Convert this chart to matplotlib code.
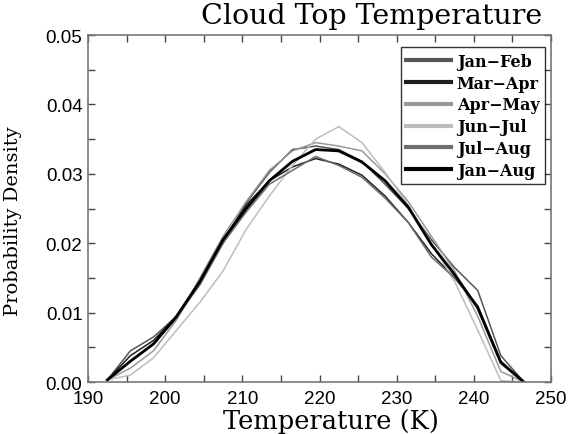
"""
Cloud top temperature probability density by season
"""
import numpy as np
import matplotlib
matplotlib.use("Agg")
import matplotlib.pyplot as plt
from matplotlib.lines import Line2D
from matplotlib.ticker import MultipleLocator

# bin centres (K)
temperature = [192.5, 195.5, 198.5, 201.5, 204.5, 207.5, 210.5, 213.5, 216.5, 219.5,
               222.5, 225.5, 228.5, 231.5, 234.5, 237.5, 240.5, 243.5, 246.5]

jan_feb = [0.0003, 0.0045, 0.0065, 0.0095, 0.0140, 0.0200, 0.0258, 0.0302, 0.0335, 0.0340,
           0.0335, 0.0318, 0.0285, 0.0250, 0.0205, 0.0165, 0.0132, 0.0038, 0.0]
mar_apr = [0.0003, 0.0038, 0.0060, 0.0095, 0.0145, 0.0205, 0.0255, 0.0290, 0.0310, 0.0322,
           0.0314, 0.0298, 0.0268, 0.0230, 0.0185, 0.0150, 0.0110, 0.0030, 0.0]
apr_may = [0.0003, 0.0020, 0.0045, 0.0090, 0.0150, 0.0210, 0.0260, 0.0305, 0.0333, 0.0345,
           0.0340, 0.0333, 0.0300, 0.0260, 0.0210, 0.0160, 0.0095, 0.0015, 0.0]
jun_jul = [0.0003, 0.0010, 0.0035, 0.0075, 0.0115, 0.0160, 0.0220, 0.0268, 0.0312, 0.0350,
           0.0368, 0.0345, 0.0302, 0.0255, 0.0200, 0.0145, 0.0075, 0.0002, 0.0]
jul_aug = [0.0003, 0.0030, 0.0055, 0.0092, 0.0142, 0.0200, 0.0245, 0.0285, 0.0305, 0.0325,
           0.0312, 0.0295, 0.0265, 0.0230, 0.0180, 0.0150, 0.0110, 0.0030, 0.0]
jan_aug = [0.0003, 0.0030, 0.0055, 0.0095, 0.0145, 0.0205, 0.0250, 0.0290, 0.0318, 0.0335,
           0.0333, 0.0317, 0.0290, 0.0252, 0.0198, 0.0155, 0.0107, 0.0028, 0.0]

labels = ["Jan\u2212Feb", "Mar\u2212Apr", "Apr\u2212May", "Jun\u2212Jul", "Jul\u2212Aug", "Jan\u2212Aug"]
series = [jan_feb, mar_apr, apr_may, jun_jul, jul_aug, jan_aug]
colors = ["#555555", "#1e1e1e", "#999999", "#bdbdbd", "#6e6e6e", "#000000"]
widths = [1.1, 1.1, 1.1, 1.1, 1.1, 2.0]

serif = ["DejaVu Serif"]

fig = plt.figure(figsize=(5.73, 4.35), dpi=100)
ax = fig.add_axes([0.1536, 0.1195, 0.808, 0.7977])

for vals, c, lw in zip(series, colors, widths):
    ax.plot(temperature, vals, color=c, lw=lw)

ax.set_xlim(190, 250)
ax.set_ylim(0, 0.05)
ax.xaxis.set_major_locator(MultipleLocator(10))
ax.xaxis.set_minor_locator(MultipleLocator(5))
ax.yaxis.set_major_locator(MultipleLocator(0.01))
ax.yaxis.set_minor_locator(MultipleLocator(0.005))
ax.yaxis.set_major_formatter(plt.FormatStrFormatter("%.2f"))
ax.tick_params(which="both", direction="in", top=True, right=True, length=5,
               width=1, color="#444444", labelsize=13.5, pad=4)
ax.tick_params(axis="x", pad=6)
for lab in ax.get_xticklabels() + ax.get_yticklabels():
    lab.set_family(["Liberation Sans", "DejaVu Sans"])
for sp in ax.spines.values():
    sp.set_color("#777777")
    sp.set_linewidth(1.2)

ax.set_xlabel("Temperature (K)", fontsize=18.5, family=serif)
ax.xaxis.set_label_coords(0.525, -0.075)
ax.set_ylabel("Probability Density", fontsize=14, family=serif)
ax.yaxis.set_label_coords(-0.143, 0.465)
fig.text(0.648, 0.932, "Cloud Top Temperature", fontsize=20.5, family=serif,
         ha="center", va="bottom")

# thicker handles in the legend than in the plot
handles = [Line2D([], [], color=c, lw=3) for c in colors]
leg = ax.legend(handles, labels, loc="upper right",
                prop={"family": serif, "weight": "bold", "size": 11.5},
                frameon=True, fancybox=False, edgecolor="black", handlelength=2.8,
                handletextpad=0.35, labelspacing=0.3, borderpad=0.35,
                borderaxespad=0, bbox_to_anchor=(0.987, 0.965))
leg.get_frame().set_linewidth(1.0)

plt.savefig("out.png", dpi=100)
